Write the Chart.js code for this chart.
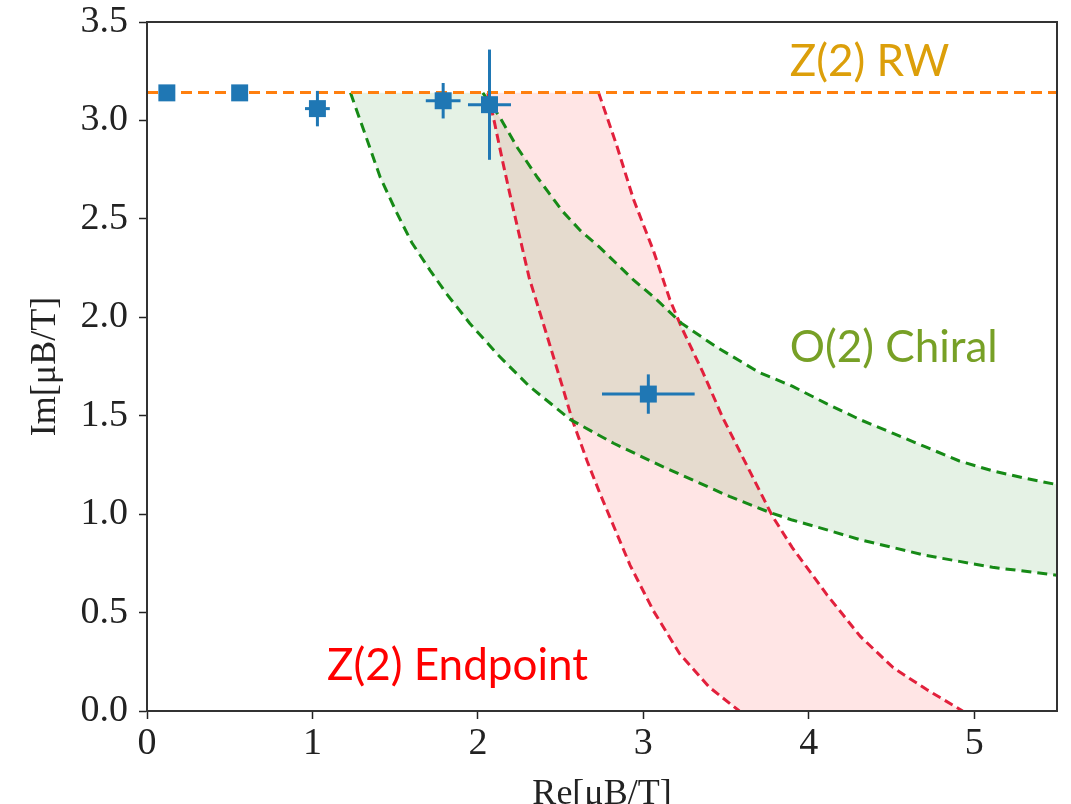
<!DOCTYPE html>
<html>
<head>
<meta charset="utf-8">
<script src="https://cdn.jsdelivr.net/npm/chart.js@4.4.1/dist/chart.umd.min.js"></script>
<style>
  html, body { margin: 0; padding: 0; background: #fff; }
  #wrap { width: 1071px; height: 804px; }
</style>
</head>
<body>
<div id="wrap"><canvas id="myChart"></canvas></div>
<script>
// lattice points, Re / Im of mu_B/T, with error bars
const pointRe    = [0.12, 0.56, 1.03, 1.79, 2.07, 3.03];
const pointIm    = [3.14, 3.14, 3.06, 3.10, 3.08, 1.61];
const pointReErr = [0, 0, 0.075, 0.105, 0.13, 0.28];
const pointImErr = [0, 0, 0.09, 0.09, 0.28, 0.10];

// Z(2) RW line at Im = pi
const rwRe = [0, 5.5];
const rwIm = [3.1416, 3.1416];

// O(2) chiral band (green)
const chiralLowRe = [1.23, 1.31, 1.41, 1.51, 1.60, 1.71, 1.81, 1.95, 2.12, 2.31, 2.56, 2.82, 3.12, 3.52, 3.76, 3.90, 4.11, 4.31, 4.51, 4.71, 4.91, 5.11, 5.50];
const chiralLowIm = [3.14, 2.95, 2.71, 2.53, 2.38, 2.24, 2.12, 1.97, 1.81, 1.65, 1.48, 1.36, 1.24, 1.09, 1.01, 0.97, 0.92, 0.87, 0.83, 0.79, 0.76, 0.73, 0.69];
const chiralHighRe = [2.03, 2.13, 2.24, 2.36, 2.51, 2.62, 2.73, 2.94, 3.08, 3.23, 3.44, 3.70, 3.90, 4.11, 4.31, 4.51, 4.71, 4.91, 5.11, 5.32, 5.50];
const chiralHighIm = [3.14, 3.02, 2.86, 2.71, 2.54, 2.44, 2.36, 2.19, 2.09, 1.97, 1.85, 1.72, 1.65, 1.56, 1.48, 1.41, 1.34, 1.27, 1.22, 1.18, 1.15];

// Z(2) endpoint band (red)
const endLeftRe = [2.06, 2.10, 2.15, 2.20, 2.31, 2.42, 2.51, 2.57, 2.66, 2.74, 2.80, 2.92, 3.06, 3.22, 3.40, 3.58];
const endLeftIm = [3.14, 2.99, 2.79, 2.60, 2.20, 1.90, 1.65, 1.48, 1.27, 1.10, 0.98, 0.74, 0.51, 0.29, 0.12, 0.00];
const endRightRe = [2.73, 2.84, 2.94, 3.06, 3.16, 3.23, 3.36, 3.48, 3.60, 3.72, 3.78, 3.90, 4.11, 4.31, 4.51, 4.71, 4.93];
const endRightIm = [3.14, 2.87, 2.60, 2.34, 2.09, 1.95, 1.72, 1.49, 1.29, 1.09, 0.99, 0.83, 0.59, 0.38, 0.22, 0.11, 0.00];

// axis ticks
const xTicks = [0, 1, 2, 3, 4, 5];
const yTicks = [0, 0.5, 1.0, 1.5, 2.0, 2.5, 3.0, 3.5];

// text labels placed in data coordinates
const annotations = [
  { text: 'Z(2) RW', x: 3.885, y: 3.225, color: '#dc9f0a' },
  { text: 'O(2) Chiral', x: 3.885, y: 1.772, color: '#77a026' },
  { text: 'Z(2) Endpoint', x: 1.088, y: 0.157, color: '#ff0000' }
];

const toXY = (xs, ys) => xs.map((x, i) => ({ x: x, y: ys[i] }));

function curve(data, color, dash) {
  return { data: data, showLine: true, fill: false, borderColor: color, borderWidth: 3,
           borderDash: dash, pointRadius: 0, tension: 0, order: 3 };
}
function band(data, color) {
  return { data: data, showLine: true, fill: 'shape', backgroundColor: color,
           borderColor: 'transparent', borderWidth: 0, pointRadius: 0, tension: 0, order: 5 };
}
function errBar(data) {
  return { data: data, showLine: true, fill: false, borderColor: '#1f77b4', borderWidth: 3,
           pointRadius: 0, order: 1 };
}

const datasets = [];
datasets.push({
  data: toXY(pointRe, pointIm), pointStyle: 'rect', pointRadius: 12,
  backgroundColor: '#1f77b4', borderWidth: 0, order: 0
});
pointRe.forEach((x, i) => {
  const y = pointIm[i];
  if (pointReErr[i] > 0) datasets.push(errBar([{ x: x - pointReErr[i], y: y }, { x: x + pointReErr[i], y: y }]));
  if (pointImErr[i] > 0) datasets.push(errBar([{ x: x, y: y - pointImErr[i] }, { x: x, y: y + pointImErr[i] }]));
});
datasets.push({ data: toXY(rwRe, rwIm), showLine: true, fill: false, borderColor: '#ff7f0e',
                borderWidth: 3, borderDash: [11, 6], pointRadius: 0, order: 2 });
datasets.push(curve(toXY(chiralLowRe, chiralLowIm), '#168a16', [10, 6]));
datasets.push(curve(toXY(chiralHighRe, chiralHighIm), '#168a16', [10, 6]));
datasets.push(curve(toXY(endLeftRe, endLeftIm), '#e2203c', [9, 5]));
datasets.push(curve(toXY(endRightRe, endRightIm), '#e2203c', [9, 5]));
// shaded bands: one side forward, the other reversed, closed as a shape
datasets.push(band(toXY(chiralLowRe, chiralLowIm).concat(toXY(chiralHighRe, chiralHighIm).reverse()), 'rgba(0,128,0,0.1)'));
datasets.push(band(toXY(endLeftRe, endLeftIm).concat(toXY(endRightRe, endRightIm).reverse()), 'rgba(255,0,0,0.1)'));

const framePlugin = {
  id: 'frame',
  afterDatasetsDraw(chart) {
    const { ctx, chartArea: a, scales: { x, y } } = chart;
    ctx.save();
    ctx.strokeStyle = '#333';
    ctx.lineWidth = 2;
    ctx.strokeRect(a.left, a.top, a.right - a.left, a.bottom - a.top);
    ctx.font = '44px Lato';
    ctx.textAlign = 'left';
    ctx.textBaseline = 'alphabetic';
    annotations.forEach(t => {
      ctx.fillStyle = t.color;
      ctx.fillText(t.text, x.getPixelForValue(t.x), y.getPixelForValue(t.y));
    });
    ctx.restore();
  }
};

const tickFont = { family: 'Liberation Serif', size: 38, lineHeight: 1.0 };
const titleFont = { family: 'Liberation Serif', size: 36, lineHeight: 1.2 };

const ctx = document.getElementById('myChart').getContext('2d');
const myChart = new Chart(ctx, {
  type: 'scatter',
  data: { datasets: datasets },
  options: {
    responsive: true,
    maintainAspectRatio: false,
    animation: false,
    events: [],
    layout: { padding: { left: 20, right: 14, top: 22, bottom: -20 } },
    plugins: { legend: { display: false }, tooltip: { enabled: false } },
    scales: {
      x: {
        type: 'linear', min: 0, max: 5.5,
        afterBuildTicks: s => { s.ticks = xTicks.map(v => ({ value: v })); },
        afterFit: s => { s.height = 113; },
        ticks: { font: tickFont, color: '#222', padding: 6, callback: v => String(v) },
        grid: { drawOnChartArea: false, drawTicks: true, tickLength: 8, tickColor: '#222', tickWidth: 1.5 },
        border: { display: true, color: '#222', width: 2 },
        title: { display: true, text: 'Re[μB/T]', font: titleFont, color: '#222', padding: { top: 0, bottom: 8 } }
      },
      y: {
        type: 'linear', min: 0, max: 3.5,
        afterBuildTicks: s => { s.ticks = yTicks.map(v => ({ value: v })); },
        afterFit: s => { s.width = 127; s.paddingTop = 0; s.paddingBottom = 0; },
        ticks: { font: tickFont, color: '#222', padding: 11, callback: v => v.toFixed(1) },
        grid: { drawOnChartArea: false, drawTicks: true, tickLength: 8, tickColor: '#222', tickWidth: 1.5 },
        border: { display: true, color: '#222', width: 2 },
        title: { display: true, text: 'Im[μB/T]', font: titleFont, color: '#222', padding: 4 }
      }
    }
  },
  plugins: [framePlugin]
});
</script>
</body>
</html>
